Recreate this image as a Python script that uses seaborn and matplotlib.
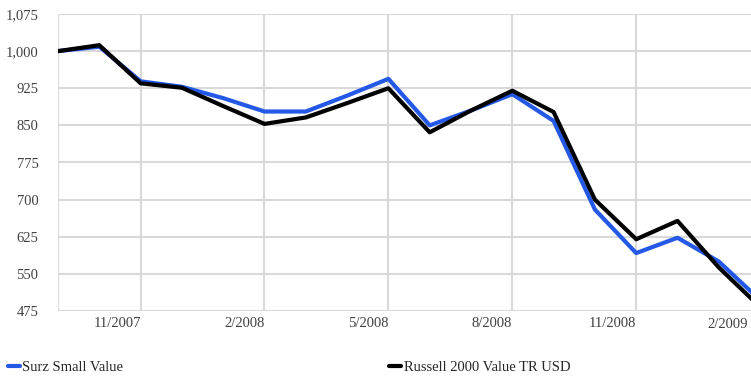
import numpy as np
import pandas as pd
import seaborn as sns
import matplotlib
matplotlib.use("Agg")
import matplotlib.pyplot as plt
from matplotlib.lines import Line2D
from matplotlib.transforms import ScaledTranslation
from matplotlib.ticker import FuncFormatter

# data (growth of 1,000)
months = ["9/2007", "10/2007", "11/2007", "12/2007", "1/2008", "2/2008",
          "3/2008", "4/2008", "5/2008", "6/2008", "7/2008", "8/2008",
          "9/2008", "10/2008", "11/2008", "12/2008", "1/2009", "2/2009"]
surz = [1000, 1009, 939, 928, 905, 878, 878, 910, 944, 850, 880, 913,
        859, 680, 592, 623, 575, 497]
russell = [1000, 1012, 935, 926, 889, 853, 866, 895, 925, 836, 880, 920,
           877, 700, 620, 657, 563, 483]
series_names = ["Surz Small Value", "Russell 2000 Value TR USD"]
colors = ["#2458e6", "#000000"]
tick_months = ["9/2007", "11/2007", "2/2008", "5/2008", "8/2008", "11/2008", "2/2009"]

df = pd.DataFrame({
    "idx": list(range(len(months))) * 2,
    "value": surz + russell,
    "series": [series_names[0]] * len(months) + [series_names[1]] * len(months),
})

sns.set_style("white")
plt.rcParams["font.family"] = ["Liberation Serif", "DejaVu Serif"]
grid_c = "#d9d9d9"
fs = 10.5

fig = plt.figure(figsize=(7.51, 3.78), dpi=100)
ax = fig.add_axes([58 / 751, 1 - 311 / 378, (17 * 41.3) / 751, 297 / 378])

sns.lineplot(data=df, x="idx", y="value", hue="series", palette=colors,
             hue_order=series_names, linewidth=3, legend=False, ax=ax)

ax.set_xlim(0, 17)
ax.set_ylim(475, 1075)
ax.set_yticks(np.arange(475, 1076, 75))
ax.yaxis.set_major_formatter(FuncFormatter(lambda v, p: f"{int(v):,}"))

tick_pos = [months.index(m) for m in tick_months]
ax.set_xticks(tick_pos)
# labels sit to the left of their gridline; the last one is pulled in from the edge
ax.set_xticklabels([""] + tick_months[1:-1] + [""], ha="right")
for lbl in ax.get_xticklabels():
    lbl.set_transform(lbl.get_transform() + ScaledTranslation(-4 / 100, 0, fig.dpi_scale_trans))
ax.text(tick_pos[-1], -0.025, tick_months[-1], ha="right", va="top",
        fontsize=fs, color="#404040", clip_on=False,
        transform=ax.get_xaxis_transform() + ScaledTranslation(-12 / 100, 0, fig.dpi_scale_trans))

ax.grid(True, color=grid_c, linewidth=1.5)
ax.set_axisbelow(True)
for s in ax.spines.values():
    s.set_visible(False)

ax.tick_params(axis="y", length=11, width=1.5, color=grid_c, pad=3,
               labelsize=fs, labelcolor="#404040")
ax.tick_params(axis="x", length=15, width=1.5, color=grid_c, pad=-11,
               labelsize=fs, labelcolor="#404040")
ax.set_xlabel("")
ax.set_ylabel("")

for i, name in enumerate(series_names):
    h = [Line2D([0], [0], color=colors[i], linewidth=3)]
    x0 = [0.010, 0.518][i]
    fig.legend(h, [name], loc="center left", bbox_to_anchor=(x0, 0.027),
               frameon=False, fontsize=fs, handlelength=0.85, handletextpad=0.15,
               borderpad=0, borderaxespad=0, labelcolor="#262626")

fig.savefig("out.png", dpi=100)
